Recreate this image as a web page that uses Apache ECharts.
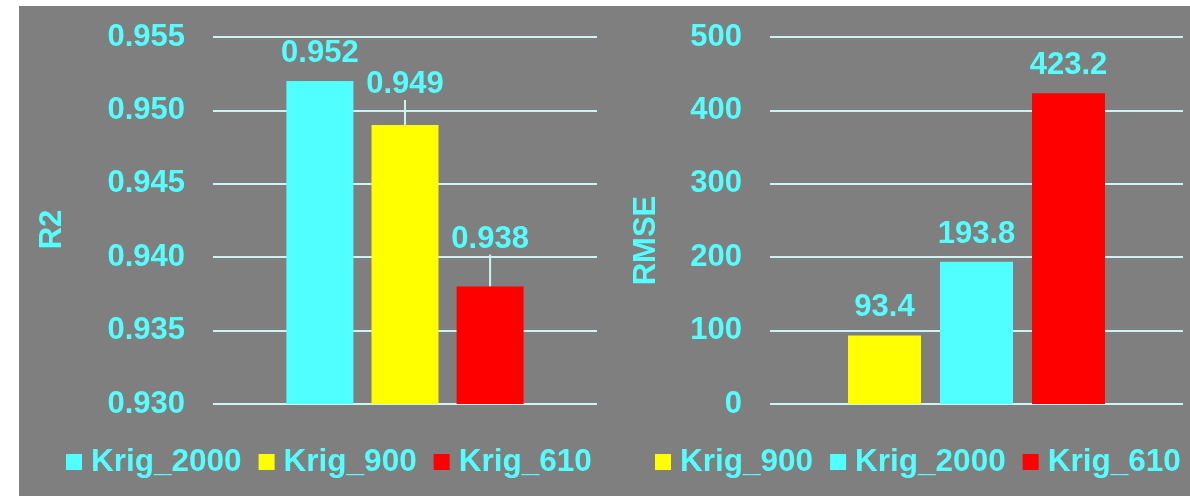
<!DOCTYPE html>
<html>
<head>
<meta charset="utf-8">
<title>Kriging comparison: R2 and RMSE</title>
<script src="https://cdn.jsdelivr.net/npm/echarts@6/dist/echarts.min.js"></script>
<style>
  html, body { margin: 0; padding: 0; background: #ffffff; width: 1190px; height: 496px; overflow: hidden; }
  #chart { position: absolute; left: 19px; top: 6px; width: 1171px; height: 490px; }
</style>
</head>
<body>
<div id="chart"></div>
<script>
// Goodness of fit (left panel)
const r2Names = ['Krig_2000', 'Krig_900', 'Krig_610'];
const r2Values = [0.952, 0.949, 0.938];
const r2Axis = { min: 0.930, max: 0.955, interval: 0.005 };

// Error (right panel)
const rmseNames = ['Krig_900', 'Krig_2000', 'Krig_610'];
const rmseValues = [93.4, 193.8, 423.2];
const rmseAxis = { min: 0, max: 500, interval: 100 };

const colorOf = { Krig_2000: '#50ffff', Krig_900: '#ffff00', Krig_610: '#ff0000' };
// labels pushed up with a guide line, per series name
const r2LabelLift = { Krig_900: -13, Krig_610: -20 };

const CYAN = '#55ffff';
const GRID_LINE = '#cdf3f3';
const FONT = '"Liberation Sans", Arial, sans-serif';
const textStyle = { color: CYAN, fontWeight: 'bold', fontSize: 31, fontFamily: FONT };

// shift: moves the rotated axis name down along the axis
function valueAxis(gridIndex, cfg, name, nameGap, shift, digits) {
  return {
    type: 'value', gridIndex, min: cfg.min, max: cfg.max, interval: cfg.interval,
    name, nameLocation: 'middle', nameRotate: 90, nameGap,
    nameTextStyle: Object.assign({ padding: [0, shift * 2, 0, 0] }, textStyle),
    axisLine: { show: false }, axisTick: { show: false },
    axisLabel: Object.assign({ margin: 28, formatter: v => v.toFixed(digits) }, textStyle),
    splitLine: { show: true, lineStyle: { color: GRID_LINE, width: 2 } }
  };
}

function categoryAxis(gridIndex) {
  return {
    type: 'category', gridIndex, data: [''],
    axisLine: { show: false }, axisTick: { show: false }, axisLabel: { show: false },
    splitLine: { show: false }
  };
}

function barSeries(name, value, axisIndex, barWidth, barGap, digits, lift) {
  const s = {
    type: 'bar', name, xAxisIndex: axisIndex, yAxisIndex: axisIndex,
    data: [value], barWidth, barGap,
    itemStyle: { color: colorOf[name] },
    label: Object.assign({
      show: true, position: 'top', distance: 12,
      formatter: p => p.value.toFixed(digits)
    }, textStyle)
  };
  if (lift) {
    s.labelLayout = { dy: lift };
    s.labelLine = { show: true, lineStyle: { color: GRID_LINE, width: 2 } };
  }
  return s;
}

function legend(names, left) {
  return {
    data: names, left, top: 440, padding: 0, icon: 'rect',
    itemWidth: 16, itemHeight: 16, itemGap: 17,
    textStyle: Object.assign({}, textStyle, { fontSize: 31.5, padding: [0, 0, 0, 4] }),
    selectedMode: false
  };
}

const series = [];
r2Names.forEach((n, i) => series.push(barSeries(n, r2Values[i], 0, 67, '27%', 3, r2LabelLift[n])));
rmseNames.forEach((n, i) => series.push(barSeries(n, rmseValues[i], 1, 73, '26%', 1, null)));

const chart = echarts.init(document.getElementById('chart'));
chart.setOption({
  backgroundColor: '#7f7f7f',
  animation: false,
  textStyle: { fontFamily: FONT },
  grid: [
    { left: 194, top: 31, width: 384, height: 367 },
    { left: 751, top: 31, width: 413, height: 367 }
  ],
  xAxis: [categoryAxis(0), categoryAxis(1)],
  yAxis: [
    valueAxis(0, r2Axis, 'R2', 145, 9, 3),
    valueAxis(1, rmseAxis, 'RMSE', 108, 20, 0)
  ],
  legend: [legend(r2Names, 47), legend(rmseNames, 636)],
  series
});
</script>
</body>
</html>
